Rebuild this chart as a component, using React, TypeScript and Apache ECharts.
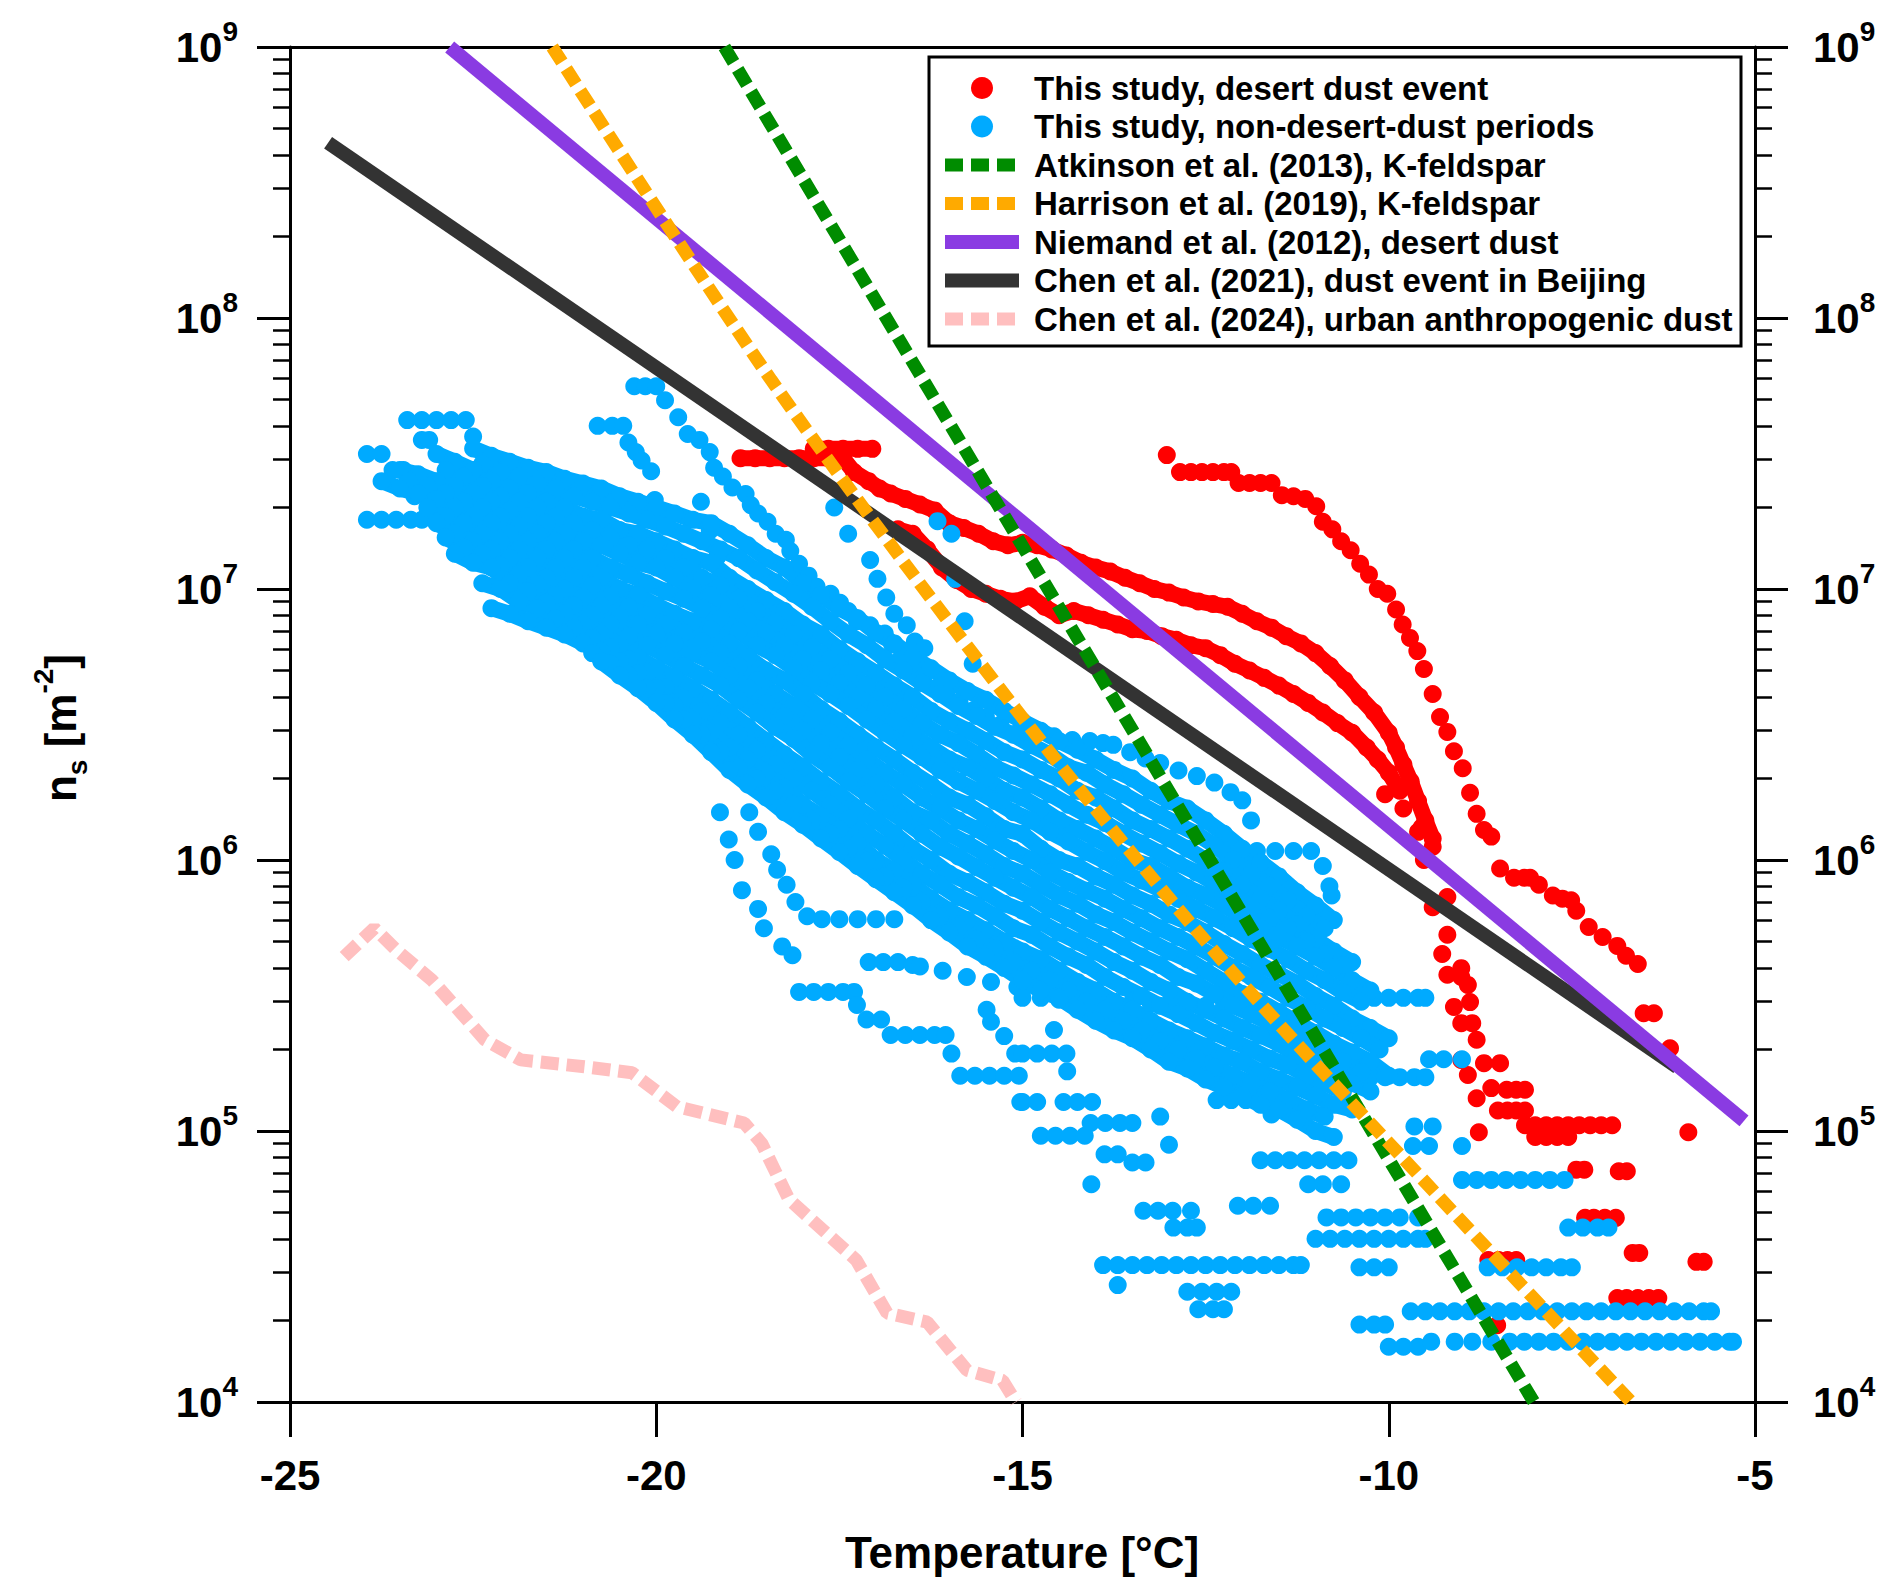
import { useEffect, useRef } from 'react';
import * as echarts from 'echarts';

const FONT = '"Liberation Sans", Arial, Helvetica, sans-serif';

// ---------- This study, desert dust event (red) : [T degC, ns m^-2] ----------
const dustEventA = [
  [-13.03, 3.12e7],
  [-12.85, 2.7e7], [-12.7, 2.7e7], [-12.55, 2.7e7], [-12.4, 2.7e7], [-12.25, 2.7e7], [-12.15, 2.7e7],
  [-12.05, 2.46e7], [-11.9, 2.46e7], [-11.75, 2.46e7], [-11.6, 2.46e7],
  [-11.46, 2.22e7], [-11.3, 2.2e7], [-11.14, 2.15e7], [-10.99, 2.02e7], [-10.9, 1.77e7], [-10.77, 1.66e7],
  [-10.65, 1.5e7], [-10.52, 1.39e7], [-10.39, 1.24e7], [-10.27, 1.13e7], [-10.15, 1.0e7], [-10.02, 9.6e6],
  [-9.9, 8.4e6], [-9.81, 7.4e6], [-9.71, 6.6e6], [-9.61, 5.9e6], [-9.52, 5.07e6], [-9.4, 4.1e6], [-9.3, 3.37e6],
  [-9.2, 2.97e6], [-9.11, 2.52e6], [-8.99, 2.18e6], [-8.89, 1.77e6], [-8.8, 1.48e6], [-8.7, 1.29e6], [-8.6, 1.22e6],
  [-8.48, 9.3e5], [-8.29, 8.6e5], [-8.15, 8.6e5], [-8.07, 8.6e5], [-7.95, 8.1e5], [-7.76, 7.4e5], [-7.63, 7.2e5],
  [-7.51, 7.1e5], [-7.44, 6.5e5], [-7.27, 5.66e5], [-7.08, 5.2e5], [-6.88, 4.82e5], [-6.76, 4.43e5], [-6.6, 4.13e5],
  [-6.52, 2.72e5], [-6.38, 2.72e5], [-6.16, 2.02e5], [-5.91, 9.9e4], [-5.8, 3.29e4], [-5.7, 3.29e4],
];
const dustEventB1 = [
  [-18.85, 3.04e7], [-18.65, 3.04e7], [-18.45, 3.04e7], [-18.25, 3.04e7], [-18.05, 3.04e7], [-17.85, 3.04e7],
  [-17.65, 3.04e7], [-17.45, 3.04e7],
  [-17.3, 2.7e7], [-17.1, 2.5e7], [-16.95, 2.35e7], [-16.8, 2.25e7], [-16.6, 2.15e7], [-16.4, 2.05e7], [-16.2, 1.95e7],
  [-16.0, 1.75e7], [-15.8, 1.68e7], [-15.6, 1.6e7], [-15.4, 1.5e7], [-15.2, 1.45e7], [-15.0, 1.48e7],
  [-14.8, 1.45e7], [-14.6, 1.4e7], [-14.4, 1.33e7], [-14.2, 1.25e7], [-14.0, 1.2e7], [-13.8, 1.16e7],
  [-13.6, 1.1e7], [-13.4, 1.05e7], [-13.2, 1.0e7], [-13.0, 9.7e6], [-12.8, 9.3e6], [-12.6, 9.0e6],
  [-12.4, 8.8e6], [-12.2, 8.6e6], [-12.0, 8.1e6], [-11.8, 7.6e6], [-11.6, 7.2e6], [-11.4, 6.7e6],
  [-11.2, 6.3e6], [-11.0, 5.8e6], [-10.8, 5.2e6], [-10.6, 4.6e6], [-10.4, 4.0e6], [-10.2, 3.5e6],
  [-10.0, 2.95e6], [-9.9, 2.6e6], [-9.8, 2.25e6], [-9.7, 1.95e6], [-9.6, 1.65e6], [-9.5, 1.4e6], [-9.4, 1.2e6],
];
const dustEventB2 = [
  [-17.85, 3.29e7], [-17.65, 3.29e7], [-17.45, 3.29e7], [-17.25, 3.29e7], [-17.05, 3.29e7],
];
const dustEventBTail = [
  [-9.52, 1.0e6], [-9.2, 7.3e5], [-9.4, 6.7e5], [-9.2, 5.3e5], [-9.27, 4.5e5], [-9.01, 3.7e5],
];
const dustEventC = [
  [-16.7, 1.66e7], [-16.5, 1.6e7], [-16.3, 1.4e7], [-16.1, 1.2e7], [-15.9, 1.08e7], [-15.7, 1.0e7],
  [-15.5, 9.6e6], [-15.3, 9.2e6], [-15.1, 9.0e6], [-14.9, 9.4e6], [-14.7, 8.6e6], [-14.5, 8.0e6],
  [-14.3, 8.3e6], [-14.1, 8.0e6], [-13.9, 7.7e6], [-13.7, 7.4e6], [-13.5, 7.1e6], [-13.3, 7.0e6],
  [-13.1, 6.7e6], [-12.9, 6.5e6], [-12.7, 6.2e6], [-12.5, 6.05e6], [-12.3, 5.7e6], [-12.1, 5.3e6],
  [-11.9, 5.0e6], [-11.7, 4.7e6], [-11.5, 4.4e6], [-11.3, 4.1e6], [-11.1, 3.8e6], [-10.9, 3.5e6],
  [-10.7, 3.2e6], [-10.5, 2.95e6], [-10.3, 2.6e6], [-10.15, 2.35e6], [-10.0, 2.1e6], [-9.85, 1.8e6],
];
const dustEventCTail = [
  [-10.05, 1.75e6], [-9.8, 1.55e6], [-9.55, 1.32e6], [-9.6, 1.27e6], [-9.4, 1.12e6],
];
const dustEventLow = [
  [-9.2, 3.77e5], [-9.01, 3.99e5], [-8.92, 3.46e5], [-9.11, 2.87e5], [-8.89, 2.99e5], [-9.01, 2.5e5],
  [-8.86, 2.5e5], [-8.8, 2.17e5], [-9.01, 1.83e5], [-8.7, 1.78e5], [-8.48, 1.78e5], [-8.92, 1.61e5],
  [-8.6, 1.44e5], [-8.39, 1.42e5], [-8.26, 1.42e5], [-8.14, 1.42e5], [-8.8, 1.32e5], [-8.51, 1.19e5],
  [-8.38, 1.19e5], [-8.26, 1.19e5], [-8.14, 1.19e5], [-8.77, 9.9e4],
  [-8.14, 1.05e5], [-8.0, 1.05e5], [-7.85, 1.05e5], [-7.7, 1.05e5], [-7.55, 1.05e5], [-7.4, 1.05e5],
  [-7.25, 1.05e5], [-7.1, 1.05e5], [-6.95, 1.05e5],
  [-8.0, 9.5e4], [-7.85, 9.5e4], [-7.7, 9.5e4], [-7.55, 9.5e4],
  [-7.44, 7.2e4], [-7.33, 7.2e4], [-6.86, 7.1e4], [-6.75, 7.1e4],
  [-7.32, 4.78e4], [-7.2, 4.78e4], [-7.05, 4.78e4], [-6.9, 4.78e4],
  [-6.67, 3.55e4], [-6.58, 3.55e4],
  [-8.64, 3.34e4], [-8.5, 3.34e4], [-8.38, 3.34e4], [-8.26, 3.34e4],
  [-6.88, 2.42e4], [-6.75, 2.42e4], [-6.6, 2.42e4], [-6.45, 2.42e4], [-6.32, 2.42e4],
  [-8.52, 1.92e4],
];

// ---------- This study, non-desert-dust periods (blue) ----------
const cleanTopLeft = [
  [-23.4, 4.2e7], [-23.2, 4.2e7], [-23.0, 4.2e7], [-22.8, 4.2e7], [-22.6, 4.2e7], [-22.5, 3.65e7],
  [-23.95, 3.15e7], [-23.75, 3.15e7], [-23.6, 2.75e7], [-23.45, 2.75e7], [-23.4, 2.47e7], [-23.3, 2.2e7],
  [-23.1, 2.1e7], [-22.9, 2.0e7], [-22.75, 1.93e7],
  [-23.95, 1.8e7], [-23.75, 1.8e7], [-23.55, 1.8e7], [-23.35, 1.8e7], [-23.2, 1.8e7],
  [-23.2, 3.55e7], [-23.1, 3.55e7],
  [-20.3, 5.6e7], [-20.15, 5.6e7], [-20.0, 5.6e7],
  [-20.8, 4.0e7], [-20.6, 4.0e7], [-20.45, 4.0e7],
  [-20.38, 3.47e7], [-20.28, 3.2e7], [-20.2, 2.98e7], [-20.07, 2.72e7],
  [-20.02, 2.13e7], [-19.88, 1.86e7], [-19.39, 2.1e7], [-19.27, 1.64e7], [-19.17, 1.31e7], [-20.92, 2.2e7],
];
const cleanUpper = [
  [-19.88, 4.97e7], [-19.7, 4.3e7], [-19.57, 3.73e7], [-19.41, 3.55e7], [-19.27, 3.2e7], [-19.21, 2.8e7],
  [-19.09, 2.6e7], [-18.96, 2.37e7], [-18.78, 2.24e7], [-18.71, 2.04e7], [-18.61, 1.9e7], [-18.48, 1.77e7],
  [-18.37, 1.6e7], [-18.23, 1.52e7], [-18.17, 1.38e7], [-18.05, 1.24e7], [-17.92, 1.12e7], [-17.81, 1.02e7],
  [-17.62, 9.6e6], [-17.49, 8.9e6], [-17.38, 8.3e6], [-17.26, 7.6e6], [-17.08, 7.35e6], [-16.88, 6.85e6],
  [-16.78, 6.24e6], [-16.65, 5.63e6], [-16.45, 5.3e6], [-16.34, 4.8e6], [-16.16, 4.35e6], [-16.04, 4.1e6],
  [-15.86, 3.85e6], [-15.66, 3.58e6], [-15.5, 3.37e6], [-15.3, 3.16e6], [-15.07, 2.95e6], [-14.82, 2.95e6],
  [-14.57, 2.86e6], [-14.32, 2.77e6], [-14.08, 2.75e6], [-13.9, 2.7e6], [-13.76, 2.66e6], [-13.53, 2.5e6],
  [-13.32, 2.37e6], [-13.12, 2.28e6], [-12.87, 2.14e6], [-12.62, 2.04e6], [-12.38, 1.93e6], [-12.16, 1.78e6],
  [-12.0, 1.66e6], [-11.88, 1.4e6], [-11.8, 1.08e6], [-11.55, 1.08e6], [-11.3, 1.08e6], [-11.06, 1.08e6],
  [-10.9, 9.5e5], [-10.81, 8.0e5], [-10.78, 7.4e5],
];
const cleanLane0 = [
  [-22.5, 3.3e7], [-22.25, 3.1e7], [-22, 2.95e7], [-21.75, 2.8e7], [-21.5, 2.7e7], [-21.25, 2.55e7],
  [-21, 2.45e7], [-20.75, 2.35e7], [-20.5, 2.2e7], [-20.25, 2.1e7], [-20, 2.0e7], [-19.75, 1.9e7],
  [-19.5, 1.8e7], [-19.25, 1.75e7], [-19, 1.6e7], [-18.75, 1.45e7], [-18.5, 1.3e7], [-18.25, 1.2e7],
  [-18, 1.05e7], [-17.75, 9.5e6], [-17.5, 8.5e6], [-17.25, 7.8e6], [-17, 6.9e6], [-16.75, 6.3e6],
  [-16.5, 5.6e6], [-16.25, 5.1e6], [-16, 4.6e6], [-15.75, 4.2e6], [-15.5, 3.9e6], [-15.25, 3.55e6],
  [-15, 3.25e6], [-14.75, 3.0e6], [-14.5, 2.75e6], [-14.25, 2.55e6], [-14, 2.35e6], [-13.75, 2.15e6],
  [-13.5, 2.0e6], [-13.25, 1.8e6], [-13, 1.65e6], [-12.75, 1.55e6], [-12.5, 1.4e6], [-12.25, 1.25e6],
  [-12, 1.1e6], [-11.75, 9.8e5], [-11.5, 8.7e5], [-11.25, 7.6e5], [-11, 6.8e5], [-10.75, 6.0e5],
];
const cleanLane05 = [
  [-22.375, 2.9e7], [-22.125, 2.7e7], [-21.875, 2.6e7], [-21.625, 2.45e7], [-21.375, 2.35e7], [-21.125, 2.2e7],
  [-20.875, 2.1e7], [-20.625, 2.0e7], [-20.375, 1.9e7], [-20.125, 1.8e7], [-19.875, 1.7e7], [-19.625, 1.6e7],
  [-19.375, 1.5e7], [-19.125, 1.4e7], [-18.875, 1.3e7], [-18.625, 1.17e7], [-18.375, 1.06e7], [-18.125, 9.6e6],
  [-17.875, 8.6e6], [-17.625, 7.6e6], [-17.375, 6.8e6], [-17.125, 6.2e6], [-16.875, 5.5e6], [-16.625, 5.0e6],
  [-16.375, 4.5e6], [-16.125, 4.1e6], [-15.875, 3.7e6], [-15.625, 3.4e6], [-15.375, 3.1e6], [-15.125, 2.9e6],
  [-14.875, 2.65e6], [-14.625, 2.45e6], [-14.375, 2.2e6], [-14.125, 2.1e6], [-13.875, 1.9e6], [-13.625, 1.75e6],
  [-13.375, 1.6e6], [-13.125, 1.47e6], [-12.875, 1.35e6], [-12.625, 1.25e6], [-12.375, 1.13e6], [-12.125, 1.0e6],
  [-11.875, 8.9e5], [-11.625, 8.0e5], [-11.375, 7.1e5], [-11.125, 6.2e5], [-10.875, 5.6e5],
];
const cleanLane1 = [
  [-23, 3.15e7], [-22.75, 2.95e7], [-22.5, 2.75e7], [-22.25, 2.5e7], [-22, 2.35e7], [-21.75, 2.25e7],
  [-21.5, 2.1e7], [-21.25, 2.0e7], [-21, 1.85e7], [-20.75, 1.8e7], [-20.5, 1.65e7], [-20.25, 1.6e7],
  [-20, 1.5e7], [-19.75, 1.4e7], [-19.5, 1.3e7], [-19.25, 1.25e7], [-19, 1.1e7], [-18.75, 1.0e7],
  [-18.5, 9.1e6], [-18.25, 8.3e6], [-18, 7.4e6], [-17.75, 6.8e6], [-17.5, 6.0e6], [-17.25, 5.4e6],
  [-17, 4.9e6], [-16.75, 4.4e6], [-16.5, 4.0e6], [-16.25, 3.55e6], [-16, 3.25e6], [-15.75, 3.0e6],
  [-15.5, 2.75e6], [-15.25, 2.5e6], [-15, 2.35e6], [-14.75, 2.15e6], [-14.5, 2.0e6], [-14.25, 1.8e6],
  [-14, 1.7e6], [-13.75, 1.55e6], [-13.5, 1.4e6], [-13.25, 1.3e6], [-13, 1.2e6], [-12.75, 1.1e6],
  [-12.5, 1.0e6], [-12.25, 9.1e5], [-12, 8.1e5], [-11.75, 7.2e5], [-11.5, 6.5e5], [-11.25, 5.8e5],
  [-11, 5.1e5], [-10.75, 4.6e5], [-10.5, 4.2e5],
];
const cleanLane15 = [
  [-22.875, 2.75e7], [-22.625, 2.6e7], [-22.375, 2.4e7], [-22.125, 2.2e7], [-21.875, 2.1e7], [-21.625, 2.0e7],
  [-21.375, 1.85e7], [-21.125, 1.75e7], [-20.875, 1.65e7], [-20.625, 1.55e7], [-20.375, 1.45e7], [-20.125, 1.4e7],
  [-19.875, 1.3e7], [-19.625, 1.2e7], [-19.375, 1.1e7], [-19.125, 1.03e7], [-18.875, 9.2e6], [-18.625, 8.3e6],
  [-18.375, 7.5e6], [-18.125, 6.8e6], [-17.875, 6.1e6], [-17.625, 5.5e6], [-17.375, 4.9e6], [-17.125, 4.4e6],
  [-16.875, 4.0e6], [-16.625, 3.6e6], [-16.375, 3.2e6], [-16.125, 2.9e6], [-15.875, 2.7e6], [-15.625, 2.45e6],
  [-15.375, 2.2e6], [-15.125, 2.05e6], [-14.875, 1.9e6], [-14.625, 1.75e6], [-14.375, 1.6e6], [-14.125, 1.47e6],
  [-13.875, 1.37e6], [-13.625, 1.25e6], [-13.375, 1.15e6], [-13.125, 1.06e6], [-12.875, 9.7e5], [-12.625, 9.0e5],
  [-12.375, 8.2e5], [-12.125, 7.5e5], [-11.875, 6.7e5], [-11.625, 6.1e5], [-11.375, 5.6e5], [-11.125, 5.0e5],
  [-10.875, 4.5e5], [-10.625, 4.1e5],
];
const cleanLane2 = [
  [-23.5, 2.75e7], [-23.25, 2.65e7], [-23, 2.5e7], [-22.75, 2.4e7], [-22.5, 2.25e7], [-22.25, 2.1e7],
  [-22, 1.95e7], [-21.75, 1.85e7], [-21.5, 1.75e7], [-21.25, 1.6e7], [-21, 1.5e7], [-20.75, 1.45e7],
  [-20.5, 1.35e7], [-20.25, 1.25e7], [-20, 1.2e7], [-19.75, 1.1e7], [-19.5, 1.0e7], [-19.25, 9.5e6],
  [-19, 8.5e6], [-18.75, 7.6e6], [-18.5, 6.9e6], [-18.25, 6.2e6], [-18, 5.5e6], [-17.75, 5.0e6],
  [-17.5, 4.5e6], [-17.25, 4.0e6], [-17, 3.6e6], [-16.75, 3.25e6], [-16.5, 2.9e6], [-16.25, 2.6e6],
  [-16, 2.35e6], [-15.75, 2.2e6], [-15.5, 2.0e6], [-15.25, 1.8e6], [-15, 1.7e6], [-14.75, 1.55e6],
  [-14.5, 1.4e6], [-14.25, 1.3e6], [-14, 1.2e6], [-13.75, 1.1e6], [-13.5, 1.0e6], [-13.25, 9.5e5],
  [-13, 8.7e5], [-12.75, 7.9e5], [-12.5, 7.4e5], [-12.25, 6.8e5], [-12, 6.2e5], [-11.75, 5.6e5],
  [-11.5, 5.2e5], [-11.25, 4.8e5], [-11, 4.4e5], [-10.75, 4.0e5], [-10.5, 3.6e5], [-10.25, 3.3e5],
];
const cleanLane25 = [
  [-23.375, 2.5e7], [-23.125, 2.4e7], [-22.875, 2.25e7], [-22.625, 2.1e7], [-22.375, 2.0e7], [-22.125, 1.85e7],
  [-21.875, 1.7e7], [-21.625, 1.6e7], [-21.375, 1.5e7], [-21.125, 1.4e7], [-20.875, 1.3e7], [-20.625, 1.2e7],
  [-20.375, 1.13e7], [-20.125, 1.05e7], [-19.875, 9.8e6], [-19.625, 9.2e6], [-19.375, 8.5e6], [-19.125, 7.8e6],
  [-18.875, 7.0e6], [-18.625, 6.2e6], [-18.375, 5.7e6], [-18.125, 5.1e6], [-17.875, 4.5e6], [-17.625, 4.1e6],
  [-17.375, 3.7e6], [-17.125, 3.3e6], [-16.875, 2.95e6], [-16.625, 2.65e6], [-16.375, 2.4e6], [-16.125, 2.15e6],
  [-15.875, 1.95e6], [-15.625, 1.8e6], [-15.375, 1.65e6], [-15.125, 1.5e6], [-14.875, 1.4e6], [-14.625, 1.27e6],
  [-14.375, 1.17e6], [-14.125, 1.07e6], [-13.875, 9.9e5], [-13.625, 9.0e5], [-13.375, 8.4e5], [-13.125, 7.8e5],
  [-12.875, 7.2e5], [-12.625, 6.6e5], [-12.375, 6.1e5], [-12.125, 5.6e5], [-11.875, 5.1e5], [-11.625, 4.7e5],
  [-11.375, 4.3e5], [-11.125, 3.9e5], [-10.875, 3.6e5], [-10.625, 3.25e5], [-10.375, 3.0e5],
];
const cleanLane3 = [
  [-23.75, 2.5e7], [-23.5, 2.35e7], [-23.25, 2.25e7], [-23, 2.15e7], [-22.75, 2.0e7], [-22.5, 1.85e7],
  [-22.25, 1.75e7], [-22, 1.6e7], [-21.75, 1.5e7], [-21.5, 1.4e7], [-21.25, 1.3e7], [-21, 1.2e7],
  [-20.75, 1.1e7], [-20.5, 1.0e7], [-20.25, 9.5e6], [-20, 8.7e6], [-19.75, 8.1e6], [-19.5, 7.6e6],
  [-19.25, 7.1e6], [-19, 6.3e6], [-18.75, 5.6e6], [-18.5, 5.0e6], [-18.25, 4.6e6], [-18, 4.1e6],
  [-17.75, 3.6e6], [-17.5, 3.25e6], [-17.25, 2.9e6], [-17, 2.6e6], [-16.75, 2.35e6], [-16.5, 2.1e6],
  [-16.25, 1.9e6], [-16, 1.7e6], [-15.75, 1.6e6], [-15.5, 1.45e6], [-15.25, 1.3e6], [-15, 1.25e6],
  [-14.75, 1.1e6], [-14.5, 1.0e6], [-14.25, 9.5e5], [-14, 8.7e5], [-13.75, 8.1e5], [-13.5, 7.4e5],
  [-13.25, 6.9e5], [-13, 6.3e5], [-12.75, 5.9e5], [-12.5, 5.4e5], [-12.25, 4.9e5], [-12, 4.5e5],
  [-11.75, 4.1e5], [-11.5, 3.8e5], [-11.25, 3.5e5], [-11, 3.15e5], [-10.75, 2.9e5], [-10.5, 2.6e5],
  [-10.25, 2.4e5], [-10, 2.2e5],
];
const cleanLane35 = [
  [-23.125, 2.0e7], [-22.875, 1.85e7], [-22.625, 1.75e7], [-22.375, 1.6e7], [-22.125, 1.5e7], [-21.875, 1.4e7],
  [-21.625, 1.3e7], [-21.375, 1.2e7], [-21.125, 1.1e7], [-20.875, 1.03e7], [-20.625, 9.4e6], [-20.375, 8.6e6],
  [-20.125, 8.0e6], [-19.875, 7.4e6], [-19.625, 6.9e6], [-19.375, 6.4e6], [-19.125, 5.8e6], [-18.875, 5.2e6],
  [-18.625, 4.6e6], [-18.375, 4.1e6], [-18.125, 3.7e6], [-17.875, 3.3e6], [-17.625, 2.95e6], [-17.375, 2.65e6],
  [-17.125, 2.35e6], [-16.875, 2.1e6], [-16.625, 1.9e6], [-16.375, 1.7e6], [-16.125, 1.55e6], [-15.875, 1.4e6],
  [-15.625, 1.3e6], [-15.375, 1.18e6], [-15.125, 1.08e6], [-14.875, 1.0e6], [-14.625, 9.0e5], [-14.375, 8.3e5],
  [-14.125, 7.7e5], [-13.875, 7.2e5], [-13.625, 6.6e5], [-13.375, 6.1e5], [-13.125, 5.6e5], [-12.875, 5.2e5],
  [-12.625, 4.8e5], [-12.375, 4.4e5], [-12.125, 4.0e5], [-11.875, 3.7e5], [-11.625, 3.4e5], [-11.375, 3.1e5],
  [-11.125, 2.85e5], [-10.875, 2.6e5], [-10.625, 2.4e5], [-10.375, 2.2e5], [-10.125, 2.0e5],
];
const cleanLane4 = [
  [-23, 1.75e7], [-22.75, 1.6e7], [-22.5, 1.5e7], [-22.25, 1.4e7], [-22, 1.3e7], [-21.75, 1.2e7],
  [-21.5, 1.1e7], [-21.25, 1.0e7], [-21, 9.3e6], [-20.75, 8.7e6], [-20.5, 7.9e6], [-20.25, 7.4e6],
  [-20, 6.8e6], [-19.75, 6.3e6], [-19.5, 5.8e6], [-19.25, 5.4e6], [-19, 4.8e6], [-18.75, 4.3e6],
  [-18.5, 3.8e6], [-18.25, 3.4e6], [-18, 3.0e6], [-17.75, 2.7e6], [-17.5, 2.4e6], [-17.25, 2.15e6],
  [-17, 1.9e6], [-16.75, 1.7e6], [-16.5, 1.5e6], [-16.25, 1.4e6], [-16, 1.25e6], [-15.75, 1.15e6],
  [-15.5, 1.05e6], [-15.25, 9.5e5], [-15, 8.9e5], [-14.75, 8.1e5], [-14.5, 7.4e5], [-14.25, 6.9e5],
  [-14, 6.3e5], [-13.75, 5.9e5], [-13.5, 5.4e5], [-13.25, 5.0e5], [-13, 4.6e5], [-12.75, 4.3e5],
  [-12.5, 3.9e5], [-12.25, 3.55e5], [-12, 3.2e5], [-11.75, 3.0e5], [-11.5, 2.75e5], [-11.25, 2.5e5],
  [-11, 2.3e5], [-10.75, 2.1e5], [-10.5, 1.95e5], [-10.25, 1.8e5], [-10, 1.6e5],
];
const cleanLane45 = [
  [-22.875, 1.55e7], [-22.625, 1.42e7], [-22.375, 1.35e7], [-22.125, 1.22e7], [-21.875, 1.13e7], [-21.625, 1.04e7],
  [-21.375, 9.5e6], [-21.125, 8.7e6], [-20.875, 8.0e6], [-20.625, 7.4e6], [-20.375, 6.7e6], [-20.125, 6.2e6],
  [-19.875, 5.7e6], [-19.625, 5.2e6], [-19.375, 4.8e6], [-19.125, 4.4e6], [-18.875, 3.9e6], [-18.625, 3.5e6],
  [-18.375, 3.1e6], [-18.125, 2.8e6], [-17.875, 2.45e6], [-17.625, 2.2e6], [-17.375, 1.95e6], [-17.125, 1.75e6],
  [-16.875, 1.55e6], [-16.625, 1.4e6], [-16.375, 1.25e6], [-16.125, 1.12e6], [-15.875, 1.03e6], [-15.625, 9.4e5],
  [-15.375, 8.6e5], [-15.125, 7.9e5], [-14.875, 7.3e5], [-14.625, 6.6e5], [-14.375, 6.1e5], [-14.125, 5.6e5],
  [-13.875, 5.2e5], [-13.625, 4.8e5], [-13.375, 4.4e5], [-13.125, 4.1e5], [-12.875, 3.7e5], [-12.625, 3.5e5],
  [-12.375, 3.2e5], [-12.125, 2.9e5], [-11.875, 2.7e5], [-11.625, 2.5e5], [-11.375, 2.3e5], [-11.125, 2.1e5],
  [-10.875, 1.95e5], [-10.625, 1.8e5], [-10.375, 1.65e5],
];
const cleanLane5 = [
  [-22.75, 1.35e7], [-22.5, 1.25e7], [-22.25, 1.2e7], [-22, 1.05e7], [-21.75, 9.8e6], [-21.5, 8.9e6],
  [-21.25, 8.1e6], [-21, 7.4e6], [-20.75, 6.8e6], [-20.5, 6.2e6], [-20.25, 5.6e6], [-20, 5.1e6],
  [-19.75, 4.7e6], [-19.5, 4.3e6], [-19.25, 3.9e6], [-19, 3.5e6], [-18.75, 3.1e6], [-18.5, 2.75e6],
  [-18.25, 2.45e6], [-18, 2.2e6], [-17.75, 1.95e6], [-17.5, 1.75e6], [-17.25, 1.55e6], [-17, 1.4e6],
  [-16.75, 1.25e6], [-16.5, 1.1e6], [-16.25, 1.0e6], [-16, 8.9e5], [-15.75, 8.3e5], [-15.5, 7.6e5],
  [-15.25, 6.9e5], [-15, 6.5e5], [-14.75, 5.9e5], [-14.5, 5.4e5], [-14.25, 5.0e5], [-14, 4.6e5],
  [-13.75, 4.2e5], [-13.5, 3.9e5], [-13.25, 3.55e5], [-13, 3.3e5], [-12.75, 3.0e5], [-12.5, 2.8e5],
  [-12.25, 2.6e5], [-12, 2.4e5], [-11.75, 2.25e5], [-11.5, 2.1e5], [-11.25, 1.9e5], [-11, 1.8e5],
  [-10.75, 1.6e5], [-10.5, 1.5e5], [-10.25, 1.4e5],
];
const cleanLane55 = [
  [-22.375, 1.05e7], [-22.125, 1.0e7], [-21.875, 9.0e6], [-21.625, 8.5e6], [-21.375, 7.8e6], [-21.125, 7.2e6],
  [-20.875, 6.6e6], [-20.625, 6.1e6], [-20.375, 5.5e6], [-20.125, 4.9e6], [-19.875, 4.35e6], [-19.625, 3.95e6],
  [-19.375, 3.55e6], [-19.125, 3.2e6], [-18.875, 2.9e6], [-18.625, 2.55e6], [-18.375, 2.25e6], [-18.125, 2.0e6],
  [-17.875, 1.8e6], [-17.625, 1.6e6], [-17.375, 1.42e6], [-17.125, 1.25e6], [-16.875, 1.13e6], [-16.625, 1.0e6],
  [-16.375, 8.9e5], [-16.125, 8.1e5], [-15.875, 7.3e5], [-15.625, 6.8e5], [-15.375, 6.2e5], [-15.125, 5.6e5],
  [-14.875, 5.3e5], [-14.625, 4.8e5], [-14.375, 4.4e5], [-14.125, 4.1e5], [-13.875, 3.7e5], [-13.625, 3.4e5],
  [-13.375, 3.15e5], [-13.125, 2.9e5], [-12.875, 2.7e5], [-12.625, 2.5e5], [-12.375, 2.3e5], [-12.125, 2.15e5],
  [-11.875, 2.0e5], [-11.625, 1.85e5], [-11.375, 1.75e5], [-11.125, 1.6e5], [-10.875, 1.5e5], [-10.625, 1.4e5],
];
const cleanLane6 = [
  [-22.25, 8.5e6], [-22, 8.1e6], [-21.75, 7.6e6], [-21.5, 7.2e6], [-21.25, 6.8e6], [-21, 6.3e6],
  [-20.75, 5.9e6], [-20.5, 5.4e6], [-20.25, 4.9e6], [-20, 4.3e6], [-19.75, 3.7e6], [-19.5, 3.3e6],
  [-19.25, 2.95e6], [-19, 2.6e6], [-18.75, 2.35e6], [-18.5, 2.1e6], [-18.25, 1.85e6], [-18, 1.6e6],
  [-17.75, 1.45e6], [-17.5, 1.3e6], [-17.25, 1.15e6], [-17, 1.0e6], [-16.75, 9.1e5], [-16.5, 8.1e5],
  [-16.25, 7.2e5], [-16, 6.5e5], [-15.75, 6.0e5], [-15.5, 5.5e5], [-15.25, 5.0e5], [-15, 4.6e5],
  [-14.75, 4.3e5], [-14.5, 3.9e5], [-14.25, 3.55e5], [-14, 3.3e5], [-13.75, 3.0e5], [-13.5, 2.8e5],
  [-13.25, 2.55e5], [-13, 2.35e5], [-12.75, 2.2e5], [-12.5, 2.05e5], [-12.25, 1.9e5], [-12, 1.8e5],
  [-11.75, 1.65e5], [-11.5, 1.55e5], [-11.25, 1.45e5], [-11, 1.35e5], [-10.75, 1.25e5], [-10.5, 1.2e5],
];
const cleanLane65 = [
  [-20.875, 5.8e6], [-20.625, 5.3e6], [-20.375, 4.8e6], [-20.125, 4.3e6], [-19.875, 3.8e6], [-19.625, 3.3e6],
  [-19.375, 2.9e6], [-19.125, 2.5e6], [-18.875, 2.2e6], [-18.625, 2.0e6], [-18.375, 1.8e6], [-18.125, 1.6e6],
  [-17.875, 1.4e6], [-17.625, 1.25e6], [-17.375, 1.1e6], [-17.125, 9.9e5], [-16.875, 8.7e5], [-16.625, 7.9e5],
  [-16.375, 7.0e5], [-16.125, 6.2e5], [-15.875, 5.6e5], [-15.625, 5.1e5], [-15.375, 4.7e5], [-15.125, 4.2e5],
  [-14.875, 3.9e5], [-14.625, 3.6e5], [-14.375, 3.3e5], [-14.125, 3.0e5], [-13.875, 2.8e5], [-13.625, 2.55e5],
  [-13.375, 2.35e5], [-13.125, 2.15e5], [-12.875, 2.0e5], [-12.625, 1.85e5], [-12.375, 1.72e5], [-12.125, 1.6e5],
  [-11.875, 1.5e5], [-11.625, 1.4e5], [-11.375, 1.3e5], [-11.125, 1.2e5], [-10.875, 1.13e5],
];
const cleanLane7 = [
  [-20.75, 5.4e6], [-20.5, 4.8e6], [-20.25, 4.3e6], [-20, 3.8e6], [-19.75, 3.3e6], [-19.5, 2.9e6],
  [-19.25, 2.5e6], [-19, 2.15e6], [-18.75, 1.9e6], [-18.5, 1.7e6], [-18.25, 1.5e6], [-18, 1.35e6],
  [-17.75, 1.2e6], [-17.5, 1.07e6], [-17.25, 9.5e5], [-17, 8.5e5], [-16.75, 7.6e5], [-16.5, 6.8e5],
  [-16.25, 6.0e5], [-16, 5.4e5], [-15.75, 4.8e5], [-15.5, 4.4e5], [-15.25, 4.0e5], [-15, 3.6e5],
  [-14.75, 3.3e5], [-14.5, 3.1e5], [-14.25, 2.8e5], [-14, 2.55e5], [-13.75, 2.35e5], [-13.5, 2.2e5],
  [-13.25, 2.0e5], [-13, 1.8e5], [-12.75, 1.7e5], [-12.5, 1.55e5], [-12.25, 1.45e5], [-12, 1.35e5],
  [-11.75, 1.25e5], [-11.5, 1.2e5], [-11.25, 1.1e5], [-11, 1.0e5], [-10.75, 9.5e4],
];
const cleanSparse = [
  [-19.13, 1.5e6], [-19.01, 1.19e6], [-18.93, 1.0e6], [-18.83, 7.74e5], [-18.61, 6.6e5], [-18.53, 5.6e5],
  [-18.28, 4.8e5], [-18.14, 4.45e5],
  [-18.73, 1.5e6], [-18.61, 1.27e6], [-18.43, 1.05e6], [-18.35, 9.2e5], [-18.22, 8.1e5], [-18.1, 7.0e5],
  [-17.94, 6.2e5], [-17.74, 6.05e5], [-17.5, 6.05e5], [-17.25, 6.05e5], [-17.0, 6.05e5], [-16.75, 6.05e5],
  [-17.1, 4.2e5], [-16.9, 4.2e5], [-16.7, 4.2e5], [-16.5, 4.1e5],
  [-16.4, 4.05e5], [-16.09, 3.9e5], [-15.76, 3.7e5], [-15.43, 3.55e5], [-15.07, 3.4e5],
  [-18.05, 3.26e5], [-17.85, 3.26e5], [-17.65, 3.26e5], [-17.45, 3.26e5], [-17.3, 3.26e5], [-17.26, 2.92e5],
  [-17.13, 2.58e5], [-16.93, 2.58e5], [-16.8, 2.26e5], [-16.6, 2.26e5], [-16.4, 2.26e5], [-16.2, 2.26e5],
  [-16.05, 2.26e5], [-15.97, 1.93e5], [-15.85, 1.6e5], [-15.65, 1.6e5], [-15.45, 1.6e5], [-15.25, 1.6e5],
  [-15.05, 1.6e5], [-15.03, 1.28e5], [-15.49, 2.8e5], [-15.43, 2.53e5], [-15.25, 2.24e5], [-15.1, 1.93e5],
  [-17.57, 2.0e7], [-17.38, 1.6e7], [-17.08, 1.28e7], [-16.98, 1.09e7], [-16.86, 9.3e6], [-16.75, 8.1e6],
  [-16.58, 7.35e6], [-16.47, 6.4e6], [-16.34, 6.05e6],
  [-16.16, 1.78e7], [-15.97, 1.6e7], [-15.92, 1.09e7], [-15.79, 7.6e6], [-15.68, 5.3e6],
];
const cleanMiddle = [
  [-15.0, 3.1e5], [-14.75, 3.1e5], [-14.5, 3.05e5], [-14.25, 3.05e5], [-14.0, 3.0e5], [-13.75, 3.0e5],
  [-13.5, 3.0e5], [-13.25, 2.95e5], [-13.0, 2.95e5], [-12.75, 2.9e5], [-12.5, 2.9e5], [-12.25, 2.9e5],
  [-14.57, 2.36e5],
  [-15.0, 1.93e5], [-14.8, 1.93e5], [-14.6, 1.93e5], [-14.4, 1.93e5], [-14.39, 1.66e5],
  [-15.0, 1.28e5], [-14.8, 1.28e5], [-14.44, 1.28e5], [-14.25, 1.28e5], [-14.05, 1.28e5],
  [-14.07, 1.07e5], [-13.87, 1.07e5], [-13.67, 1.07e5], [-13.5, 1.07e5],
  [-14.75, 9.6e4], [-14.55, 9.6e4], [-14.35, 9.6e4], [-14.15, 9.6e4],
  [-13.88, 8.2e4], [-13.7, 8.2e4], [-13.5, 7.65e4], [-13.32, 7.65e4], [-14.06, 6.36e4],
  [-13.12, 1.13e5], [-13.0, 8.9e4],
  [-13.35, 5.08e4], [-13.15, 5.08e4], [-12.95, 5.08e4], [-12.7, 5.08e4],
  [-12.94, 4.4e4], [-12.75, 4.4e4], [-12.62, 4.4e4],
  [-12.06, 5.3e4], [-11.85, 5.3e4], [-11.62, 5.3e4],
  [-13.9, 3.2e4], [-13.7, 3.2e4], [-13.5, 3.2e4], [-13.3, 3.2e4], [-13.1, 3.2e4], [-12.9, 3.2e4],
  [-12.7, 3.2e4], [-12.5, 3.2e4], [-12.3, 3.2e4], [-12.1, 3.2e4], [-11.9, 3.2e4], [-11.7, 3.2e4],
  [-11.5, 3.2e4], [-11.3, 3.2e4], [-11.2, 3.2e4],
  [-13.7, 2.7e4],
  [-12.75, 2.55e4], [-12.55, 2.55e4], [-12.35, 2.55e4], [-12.15, 2.55e4],
  [-12.6, 2.2e4], [-12.4, 2.2e4], [-12.25, 2.2e4],
  [-12.35, 1.3e5], [-12.15, 1.3e5], [-11.95, 1.3e5], [-11.75, 1.3e5], [-11.55, 1.3e5],
  [-12.2, 1.5e5], [-11.9, 1.45e5], [-11.6, 1.15e5],
];
const cleanRight = [
  [-10.2, 3.1e5], [-10.0, 3.1e5], [-9.8, 3.1e5], [-9.6, 3.1e5], [-9.5, 3.1e5],
  [-9.45, 1.84e5], [-9.25, 1.84e5], [-9.0, 1.84e5],
  [-9.65, 1.04e5], [-9.4, 1.04e5],
  [-9.67, 8.8e4], [-9.45, 8.8e4], [-9.0, 8.8e4],
  [-10.65, 1.58e5], [-10.45, 1.58e5], [-10.25, 1.58e5], [-10.05, 1.58e5], [-9.85, 1.58e5], [-9.65, 1.58e5],
  [-9.5, 1.58e5],
  [-11.75, 7.8e4], [-11.55, 7.8e4], [-11.35, 7.8e4], [-11.15, 7.8e4], [-10.95, 7.8e4], [-10.75, 7.8e4],
  [-10.55, 7.8e4],
  [-11.1, 6.36e4], [-10.9, 6.36e4], [-10.65, 6.36e4],
  [-10.85, 4.8e4], [-10.65, 4.8e4], [-10.45, 4.8e4], [-10.25, 4.8e4], [-10.05, 4.8e4], [-9.85, 4.8e4],
  [-9.6, 4.8e4],
  [-11.0, 4.0e4], [-10.8, 4.0e4], [-10.6, 4.0e4], [-10.4, 4.0e4], [-10.2, 4.0e4], [-10.0, 4.0e4],
  [-9.8, 4.0e4], [-9.6, 4.0e4], [-9.5, 4.0e4],
  [-10.4, 3.14e4], [-10.2, 3.14e4], [-10.0, 3.14e4],
  [-10.4, 1.93e4], [-10.2, 1.93e4], [-10.05, 1.93e4],
  [-10.0, 1.6e4], [-9.8, 1.6e4], [-9.6, 1.6e4],
  [-9.7, 2.16e4], [-9.5, 2.16e4], [-9.3, 2.16e4], [-9.1, 2.16e4], [-8.9, 2.16e4], [-8.7, 2.16e4],
  [-8.5, 2.16e4], [-8.3, 2.16e4], [-8.1, 2.16e4], [-7.9, 2.16e4], [-7.7, 2.16e4], [-7.5, 2.16e4],
  [-7.3, 2.16e4], [-7.1, 2.16e4], [-6.9, 2.16e4], [-6.7, 2.16e4], [-6.5, 2.16e4], [-6.3, 2.16e4],
  [-6.1, 2.16e4], [-5.9, 2.16e4], [-5.7, 2.16e4], [-5.6, 2.16e4],
  [-9.42, 1.67e4], [-9.1, 1.67e4], [-8.86, 1.67e4], [-8.6, 1.67e4], [-8.35, 1.67e4], [-8.15, 1.67e4],
  [-7.95, 1.67e4], [-7.75, 1.67e4], [-7.55, 1.67e4], [-7.35, 1.67e4], [-7.15, 1.67e4], [-6.95, 1.67e4],
  [-6.75, 1.67e4], [-6.55, 1.67e4], [-6.35, 1.67e4], [-6.15, 1.67e4], [-5.95, 1.67e4], [-5.75, 1.67e4],
  [-5.55, 1.67e4], [-5.35, 1.67e4], [-5.3, 1.67e4],
  [-7.55, 4.4e4], [-7.35, 4.4e4], [-7.15, 4.4e4], [-7.0, 4.4e4],
  [-9.0, 6.6e4], [-8.8, 6.6e4], [-8.6, 6.6e4], [-8.4, 6.6e4], [-8.2, 6.6e4], [-8.0, 6.6e4], [-7.8, 6.6e4],
  [-7.6, 6.6e4],
  [-8.65, 3.14e4], [-8.45, 3.14e4], [-8.25, 3.14e4], [-8.05, 3.14e4], [-7.85, 3.14e4], [-7.65, 3.14e4],
  [-7.5, 3.14e4],
];

// ---------- literature parameterisations ----------
const atkinson2013 = [[-19.07, 1e9], [-8.02, 1e4]];
const harrison2019 = [[-21.42, 1e9], [-18.43, 5.9e7], [-15.09, 3.6e6], [-12.28, 4.28e5], [-9.4, 6.05e4], [-6.69, 1e4]];
const niemand2012 = [[-22.82, 1e9], [-5.15, 1.09e5]];
const chen2021 = [[-24.48, 4.43e8], [-6.06, 1.72e5]];
const chen2024 = [
  [-24.26, 4.4e5], [-23.85, 5.6e5], [-23.55, 4.66e5], [-23.06, 3.6e5], [-22.34, 2.17e5], [-21.85, 1.83e5],
  [-20.93, 1.72e5], [-20.33, 1.64e5], [-19.72, 1.23e5], [-18.8, 1.07e5], [-18.56, 9.0e4], [-18.19, 5.6e4],
  [-17.27, 3.34e4], [-16.85, 2.13e4], [-16.3, 1.97e4], [-15.76, 1.31e4], [-15.27, 1.2e4], [-15.09, 1.0e4],
];

const minorTicks = [
  2e4, 3e4, 4e4, 5e4, 6e4, 7e4, 8e4, 9e4,
  2e5, 3e5, 4e5, 5e5, 6e5, 7e5, 8e5, 9e5,
  2e6, 3e6, 4e6, 5e6, 6e6, 7e6, 8e6, 9e6,
  2e7, 3e7, 4e7, 5e7, 6e7, 7e7, 8e7, 9e7,
  2e8, 3e8, 4e8, 5e8, 6e8, 7e8, 8e8, 9e8,
];

const legendNames = [
  'This study, desert dust event',
  'This study, non-desert-dust periods',
  'Atkinson et al. (2013), K-feldspar',
  'Harrison et al. (2019), K-feldspar',
  'Niemand et al. (2012), desert dust',
  'Chen et al. (2021), dust event in Beijing',
  'Chen et al. (2024), urban anthropogenic dust',
];
const legendColors = ['#ff0000', '#00aaff', '#008c00', '#ffaa00', '#8a3be2', '#333333', '#ffbfbf'];
const legendKinds = ['dot', 'dot', 'dash', 'dash', 'solid', 'solid', 'dash'];

const DASH = [18, 8];
const DOT_SIZE = 18;

export default function App() {
  const chartRef = useRef<HTMLDivElement>(null);

  useEffect(() => {
    if (!chartRef.current) return;
    document.body.style.margin = '0';
    const chart = echarts.init(chartRef.current, undefined, { renderer: 'svg' });

    const tickLabel = (v: number) => `{b|10}{s|${Math.round(Math.log10(v))}}`;
    const tickRich = {
      b: { fontSize: 42, fontWeight: 'bold', fontFamily: FONT, color: '#000', lineHeight: 42, verticalAlign: 'bottom' },
      s: { fontSize: 28, fontWeight: 'bold', fontFamily: FONT, color: '#000', lineHeight: 28, padding: [0, 0, 32, 0] },
    };
    const minorLogs = minorTicks.map((v) => Math.log10(v));

    const majorY = (position: 'left' | 'right') => ({
      type: 'log',
      logBase: 10,
      min: 1e4,
      max: 1e9,
      position,
      axisLine: { show: true, lineStyle: { color: '#000', width: 3 } },
      axisTick: { show: true, inside: false, length: 33, lineStyle: { color: '#000', width: 3 } },
      axisLabel: {
        show: true,
        margin: position === 'left' ? 52 : 58,
        formatter: tickLabel,
        rich: tickRich,
      },
      splitLine: { show: false },
    });
    const minorY = (position: 'left' | 'right') => ({
      type: 'value',
      min: 4,
      max: 9,
      position,
      axisLine: { show: false },
      axisTick: { show: true, inside: false, length: 17, customValues: minorLogs, lineStyle: { color: '#000', width: 2.5 } },
      axisLabel: { show: false },
      splitLine: { show: false },
    });

    // literature curves sit above all measured points
    const lineSeries = (idx: number, data: number[][], dashed: boolean, smooth: boolean | number = false) => ({
      name: legendNames[idx],
      type: 'line',
      z: 5,
      data,
      symbol: 'none',
      showSymbol: false,
      smooth,
      silent: true,
      lineStyle: { color: legendColors[idx], width: dashed ? 13 : 14, type: dashed ? DASH : 'solid', cap: 'butt' },
    });

    // a run of closely spaced freezing points, drawn as dots joined into a chain
    const chain = (idx: number, data: number[][], z: number) => ({
      name: legendNames[idx],
      type: 'line',
      z,
      data,
      symbol: 'circle',
      symbolSize: DOT_SIZE,
      showSymbol: true,
      silent: true,
      itemStyle: { color: legendColors[idx] },
      lineStyle: { color: legendColors[idx], width: DOT_SIZE - 2, cap: 'round', join: 'round' },
    });
    const dots = (idx: number, data: number[][], z: number) => ({
      name: legendNames[idx],
      type: 'scatter',
      z,
      data,
      symbol: 'circle',
      symbolSize: DOT_SIZE,
      silent: true,
      itemStyle: { color: legendColors[idx], opacity: 1 },
    });

    // legend drawn as graphic elements
    const legendRows: any[] = [];
    legendNames.forEach((name, i) => {
      const cy = 88 + i * 38.5;
      if (legendKinds[i] === 'dot') {
        legendRows.push({ type: 'circle', shape: { cx: 982, cy, r: 11 }, style: { fill: legendColors[i] } });
      } else {
        legendRows.push({
          type: 'line',
          shape: { x1: 945, y1: cy, x2: 1019, y2: cy },
          style: {
            stroke: legendColors[i],
            lineWidth: legendKinds[i] === 'dash' ? 13 : 14,
            lineDash: legendKinds[i] === 'dash' ? DASH : null,
          },
        });
      }
      legendRows.push({
        type: 'text',
        x: 1034,
        y: cy,
        style: {
          text: name,
          fill: '#000',
          fontSize: 33,
          fontWeight: 'bold',
          fontFamily: FONT,
          align: 'left',
          verticalAlign: 'middle',
        },
      });
    });

    const cleanLanes = [
      cleanLane0, cleanLane05, cleanLane1, cleanLane15, cleanLane2, cleanLane25, cleanLane3, cleanLane35,
      cleanLane4, cleanLane45, cleanLane5, cleanLane55, cleanLane6, cleanLane65, cleanLane7,
    ];

    const option: any = {
      animation: false,
      backgroundColor: '#fff',
      grid: { left: 290, right: 137, top: 47, bottom: 193, containLabel: false },
      xAxis: [
        {
          type: 'value',
          min: -25,
          max: -5,
          interval: 5,
          position: 'bottom',
          axisLine: { show: true, onZero: false, lineStyle: { color: '#000', width: 3 } },
          axisTick: { show: true, inside: false, length: 35, lineStyle: { color: '#000', width: 3 } },
          axisLabel: { show: true, margin: 52, fontSize: 42, fontWeight: 'bold', fontFamily: FONT, color: '#000' },
          splitLine: { show: false },
        },
        {
          type: 'value',
          min: -25,
          max: -5,
          position: 'top',
          axisLine: { show: true, onZero: false, lineStyle: { color: '#000', width: 3 } },
          axisTick: { show: false },
          axisLabel: { show: false },
          splitLine: { show: false },
        },
      ],
      yAxis: [majorY('left'), minorY('left'), majorY('right'), minorY('right')],
      series: [
        dots(0, [...dustEventA, ...dustEventBTail, ...dustEventCTail, ...dustEventLow], 2),
        chain(0, dustEventB1, 2),
        chain(0, dustEventB2, 2),
        chain(0, dustEventC, 2),
        dots(1, [...cleanTopLeft, ...cleanUpper, ...cleanSparse, ...cleanMiddle, ...cleanRight], 3),
        ...cleanLanes.map((lane) => chain(1, lane, 3)),
        lineSeries(5, chen2021, false),
        lineSeries(4, niemand2012, false),
        lineSeries(2, atkinson2013, true),
        lineSeries(3, harrison2019, true, 0.3),
        lineSeries(6, chen2024, true),
      ],
      graphic: [
        {
          type: 'text',
          x: 1022,
          y: 1552,
          style: {
            text: 'Temperature [°C]',
            fill: '#000',
            fontSize: 44,
            fontWeight: 'bold',
            fontFamily: FONT,
            align: 'center',
            verticalAlign: 'middle',
          },
        },
        {
          type: 'text',
          x: 60,
          y: 728,
          rotation: Math.PI / 2,
          style: {
            text: '{n|n}{sb|s}{n| [m}{sp|-2}{n|]}',
            fill: '#000',
            align: 'center',
            verticalAlign: 'middle',
            rich: {
              n: { fontSize: 44, fontWeight: 'bold', fontFamily: FONT, color: '#000', lineHeight: 44, verticalAlign: 'middle' },
              sb: { fontSize: 28, fontWeight: 'bold', fontFamily: FONT, color: '#000', lineHeight: 28, padding: [34, 0, 0, 0] },
              sp: { fontSize: 28, fontWeight: 'bold', fontFamily: FONT, color: '#000', lineHeight: 28, padding: [0, 0, 34, 0] },
            },
          },
        },
        {
          type: 'group',
          z: 10,
          children: [
            {
              type: 'rect',
              shape: { x: 929, y: 57, width: 812, height: 289 },
              style: { fill: '#fff', stroke: '#000', lineWidth: 3 },
            },
            ...legendRows,
          ],
        },
      ],
    };

    chart.setOption(option, { notMerge: true });

    return () => {
      chart.dispose();
    };
  }, []);

  return <div ref={chartRef} style={{ width: '1892px', height: '1595px' }} />;
}
